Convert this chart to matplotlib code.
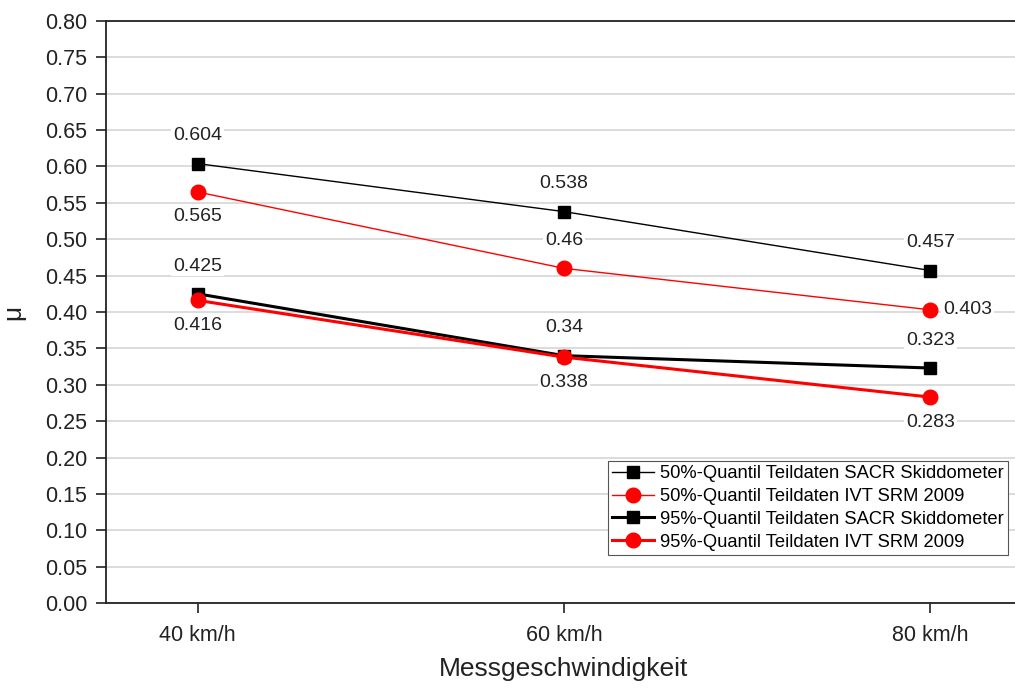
import matplotlib
matplotlib.use('Agg')
import matplotlib.pyplot as plt
import numpy as np

plt.rcParams['font.family'] = ['Liberation Sans', 'DejaVu Sans']

# speeds and quantile values
speeds = ['40 km/h', '60 km/h', '80 km/h']
q50_sacr = [0.604, 0.538, 0.457]
q50_ivt = [0.565, 0.46, 0.403]
q95_sacr = [0.425, 0.34, 0.323]
q95_ivt = [0.416, 0.338, 0.283]

# label offsets in points (dx, dy) for every value
off_q50_sacr = [(0, 20), (0, 20), (0, 20)]
off_q50_ivt = [(0, -18), (0, 20), (27, 0)]
off_q95_sacr = [(0, 20), (0, 20), (0, 20)]
off_q95_ivt = [(0, -18), (0, -18), (0, -18)]

fig = plt.figure(figsize=(10.15, 6.88), dpi=100)
ax = fig.add_axes([0.1044, 0.1235, 0.9025, 0.846])

x = np.arange(len(speeds))
ax.plot(x, q50_sacr, color='black', lw=1.0, marker='s', ms=9,
        label='50%-Quantil Teildaten SACR Skiddometer', zorder=3)
ax.plot(x, q50_ivt, color='red', lw=1.0, marker='o', ms=10.5,
        label='50%-Quantil Teildaten IVT SRM 2009', zorder=3)
ax.plot(x, q95_sacr, color='black', lw=2.2, marker='s', ms=9,
        label='95%-Quantil Teildaten SACR Skiddometer', zorder=3)
ax.plot(x, q95_ivt, color='red', lw=2.2, marker='o', ms=10.5,
        label='95%-Quantil Teildaten IVT SRM 2009', zorder=3)

for vals, offs in [(q50_sacr, off_q50_sacr), (q50_ivt, off_q50_ivt),
                   (q95_sacr, off_q95_sacr), (q95_ivt, off_q95_ivt)]:
    for xi, v, (dx, dy) in zip(x, vals, offs):
        ax.annotate('%g' % v, (xi, v), xytext=(dx, dy), textcoords='offset points',
                    ha='center', va='center', fontsize=14, color='#222222',
                    bbox=dict(boxstyle='square,pad=0.1', fc='white', ec='none'),
                    zorder=4)

ax.set_xlim(-0.25, 2.25)
ax.set_ylim(0, 0.8)
ax.set_yticks(np.arange(0, 0.801, 0.05))
ax.set_yticklabels(['%.2f' % t for t in np.arange(0, 0.801, 0.05)])
ax.set_xticks(x)
ax.set_xticklabels(speeds)
ax.tick_params(axis='both', labelsize=15.5, colors='#222222', direction='out',
               length=7.5, width=1.2)
ax.tick_params(axis='y', pad=6)
ax.tick_params(axis='x', pad=8)
ax.grid(axis='y', color='#d6d6d6', lw=1.2)
ax.set_axisbelow(True)
for sp in ax.spines.values():
    sp.set_linewidth(1.3)
    sp.set_color('#222222')

ax.set_xlabel('Messgeschwindigkeit', fontsize=19, color='#222222', labelpad=8)
ax.set_ylabel('μ', fontsize=19, color='#222222', labelpad=14)

leg = ax.legend(loc='lower right', bbox_to_anchor=(0.985, 0.082), fontsize=13.2,
                fancybox=False, framealpha=1, edgecolor='#555555',
                handlelength=2.3, handletextpad=0.3, borderpad=0.25,
                labelspacing=0.32, borderaxespad=0)
leg.get_frame().set_linewidth(0.8)

fig.savefig('out.png', dpi=100)
